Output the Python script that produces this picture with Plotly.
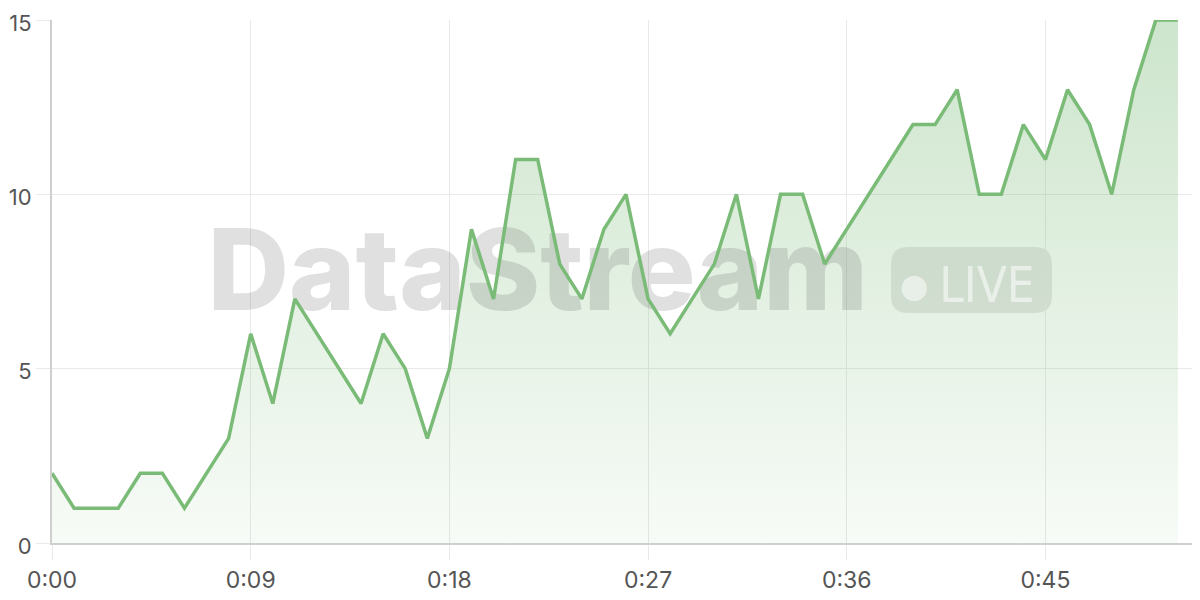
import plotly.graph_objects as go

seconds = list(range(52))
values = [2, 1, 1, 1, 2, 2, 1, 2, 3, 6,
          4, 7, 6, 5, 4, 6, 5, 3, 5, 9,
          7, 11, 11, 8, 7, 9, 10, 7, 6, 7,
          8, 10, 7, 10, 10, 8, 9, 10, 11, 12,
          12, 13, 10, 10, 12, 11, 13, 12, 10, 13,
          15, 15]
x_tick_vals = [0, 9, 18, 27, 36, 45]
x_tick_text = ["0:00", "0:09", "0:18", "0:27", "0:36", "0:45"]
y_tick_vals = [0, 5, 10, 15]
watermark_main = "DataStream"
watermark_badge = "LIVE"

GREEN = "#7bbb78"
GRID = "#e9e9e9"
AXIS = "#cfcfcf"
TEXT = "#555555"

# the page body adds an 8px offset; compensate so the plot sits at
# screen x 52..1200, y 20..543
OFF = 8
W, H = 1200 - OFF, 600 - OFF
SL, SR, ST, SB = 52, 1200, 20, 543  # plot area in screen pixels
PW, PH = SR - SL, SB - ST


def px_x(p):
    return (p - SL) / PW


def px_y(p):
    return (SB - p) / PH


def pill_path(x0, y0, x1, y1, r):
    pts = [
        f"M{px_x(x0 + r)},{px_y(y0)}",
        f"L{px_x(x1 - r)},{px_y(y0)}",
        f"Q{px_x(x1)},{px_y(y0)} {px_x(x1)},{px_y(y0 + r)}",
        f"L{px_x(x1)},{px_y(y1 - r)}",
        f"Q{px_x(x1)},{px_y(y1)} {px_x(x1 - r)},{px_y(y1)}",
        f"L{px_x(x0 + r)},{px_y(y1)}",
        f"Q{px_x(x0)},{px_y(y1)} {px_x(x0)},{px_y(y1 - r)}",
        f"L{px_x(x0)},{px_y(y0 + r)}",
        f"Q{px_x(x0)},{px_y(y0)} {px_x(x0 + r)},{px_y(y0)}",
        "Z",
    ]
    return " ".join(pts)


fig = go.Figure()

# area fill
fig.add_trace(go.Scatter(
    x=seconds, y=values, mode="none", fill="tozeroy",
    fillgradient=dict(type="vertical",
                      colorscale=[[0, "rgba(123,187,120,0.06)"],
                                  [1, "rgba(123,187,120,0.38)"]]),
    hoverinfo="skip", showlegend=False,
))

# watermark (between fill and line)
fig.add_trace(go.Scatter(
    x=[22.0], y=[7.48], mode="text", text=[watermark_main],
    textfont=dict(family="Inter", size=113, color="rgba(60,60,60,0.16)", weight=800),
    textposition="middle center", hoverinfo="skip", showlegend=False,
))
fig.add_shape(type="path", xref="paper", yref="paper",
              path=pill_path(891, 247, 1052, 313, 17),
              fillcolor="rgba(60,60,60,0.13)", line=dict(width=0),
              layer="between")
fig.add_trace(go.Scatter(
    x=[39.05], y=[7.3], mode="text", text=["●"],
    textfont=dict(family="DejaVu Sans", size=33, color="rgba(255,255,255,0.55)"),
    textposition="middle center", hoverinfo="skip", showlegend=False,
))
fig.add_trace(go.Scatter(
    x=[42.35], y=[7.25], mode="text", text=[watermark_badge],
    textfont=dict(family="DejaVu Sans Condensed", size=49, color="rgba(255,255,255,0.55)"),
    textposition="middle center", hoverinfo="skip", showlegend=False,
))

# line
fig.add_trace(go.Scatter(
    x=seconds, y=values, mode="lines",
    line=dict(color=GREEN, width=3.5),
    hoverinfo="skip", showlegend=False,
))

fig.update_layout(
    width=W, height=H,
    margin=dict(l=SL - OFF, r=0, t=ST - OFF, b=H - (SB - OFF)),
    paper_bgcolor="white", plot_bgcolor="white",
    font=dict(family="Inter", size=23, color=TEXT),
    xaxis=dict(range=[0, 52], tickvals=x_tick_vals, ticktext=x_tick_text,
               showgrid=True, gridcolor=GRID, gridwidth=1.2,
               ticks="outside", ticklen=15, tickcolor=GRID, tickwidth=1.2,
               showline=True, linecolor=AXIS, linewidth=2,
               zeroline=False, automargin=False, ticklabeloverflow="allow",
               tickfont=dict(size=23, color=TEXT)),
    yaxis=dict(range=[0, 15], tickvals=y_tick_vals,
               showgrid=True, gridcolor=GRID, gridwidth=1.2,
               ticks="outside", ticklen=14, tickcolor=GRID, tickwidth=1.2,
               showline=True, linecolor=AXIS, linewidth=2,
               zeroline=False, automargin=False, ticklabeloverflow="allow",
               ticklabelshift=3,
               tickfont=dict(size=22, color=TEXT)),
)

fig.write_html("out.html")
